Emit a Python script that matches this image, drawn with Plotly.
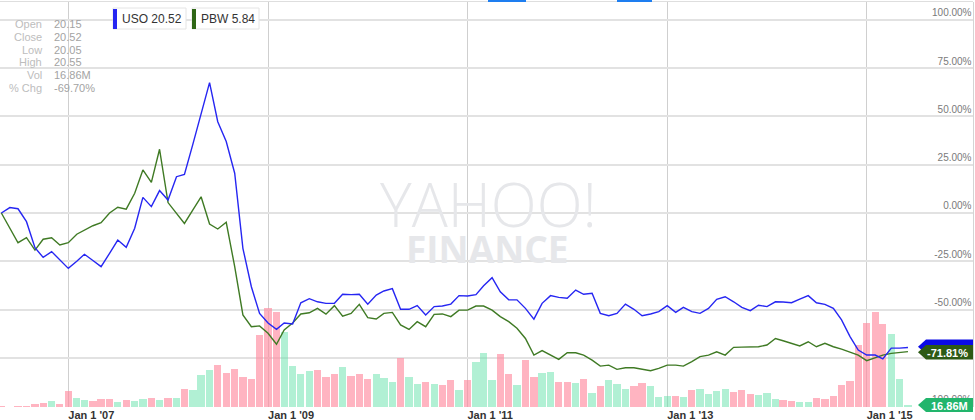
import pandas as pd
import plotly.graph_objects as go

# ---------------- data ----------------
months = pd.date_range("2006-05-01", periods=110, freq="MS")

uso_pct = [0, 2.8, 2.2, -4.5, -18, -23, -20, -24.5, -28.7, -25,
           -21.4, -24.6, -27.8, -20.9, -14, -17.8, -7.9, 8.1, 3.3, 11.6,
           6.7, 18.8, 20, 35.7, 51.8, 67.5, 47.3, 37, 20.6, -18.3,
           -38.2, -52, -57, -60.3, -57, -57.5, -46.5, -44.4, -46, -46.8,
           -46.8, -42.1, -42.3, -42.1, -47.3, -42.5, -40.4, -39.2, -49.9, -49.9,
           -48, -52.8, -48.5, -48.2, -47.2, -42.8, -43, -42.3, -37.7, -33.5,
           -40.8, -45, -45, -49.4, -55, -46.8, -42.8, -43.7, -44.2, -39.9,
           -42.1, -41.6, -52, -53.2, -52, -47.2, -49.9, -53.2, -52.3, -51.1,
           -48, -51.5, -48.9, -51.1, -52, -49.4, -44.7, -43.4, -46, -48.9,
           -50.6, -47.8, -48.5, -46, -46.1, -46.5, -44.6, -42.8, -46.5, -47.3,
           -49.4, -55.4, -64, -71, -73.6, -73.6, -75.6, -70, -70, -69.7]

pbw_pct = [0, -8, -15.4, -12.8, -19.2, -13.6, -12.8, -16.6, -15.4, -11,
           -8.8, -6.6, -5, 0, 3, 2, 10.2, 22.3, 15.9, 33,
           5.4, 0, -5.4, 1.6, 8.4, -5.7, -8.3, -4.8, -27.8, -52.8,
           -58.9, -58.5, -62.3, -68, -60.6, -57, -52.3, -51.7, -49.4, -52.4,
           -48, -53.4, -52, -47.3, -54.2, -54.9, -52, -51.5, -58, -60.3,
           -56.3, -58.9, -52.5, -52.3, -53.7, -50.3, -50.3, -48.2, -48.2, -50.3,
           -53.7, -56.3, -59.7, -65, -73.6, -71.3, -73.6, -75.8, -72.4, -72.4,
           -73.6, -76.2, -79.3, -78.8, -81, -80.2, -80.2, -81, -81.7, -80.5,
           -78.8, -78.8, -79.3, -77, -74.4, -73.6, -71.9, -73.6, -69.6, -69.5,
           -69.4, -69.3, -68.4, -65, -66.2, -67.5, -68.9, -66.7, -69.3, -67.5,
           -69.3, -70.5, -71.9, -73.6, -76.5, -74.8, -73.6, -72.7, -72.2, -71.81]

volume_m = [8, 4, 6, 8, 25, 31, 48, 23, 134, 78,
            61, 50, 65, 65, 42, 59, 50, 65, 73, 56,
            78, 76, 149, 140, 266, 313, 350, 286, 322, 252,
            233, 605, 832, 798, 630, 342, 280, 300, 308, 252,
            280, 336, 258, 275, 238, 280, 241, 210, 414, 249,
            196, 210, 191, 182, 229, 140, 227, 375, 454, 224,
            448, 280, 182, 392, 252, 286, 291, 207, 213, 202,
            238, 118, 179, 224, 196, 154, 179, 202, 174, 84,
            92, 95, 84, 140, 149, 107, 132, 151, 126, 140,
            107, 103, 118, 70, 61, 50, 39, 39, 73, 70,
            95, 182, 216, 521, 706, 798, 697, 613, 235, 16.86]

# 1 = up month (green bar), 0 = down month (pink bar)
volume_up = [0, 1, 0, 0, 0, 0, 1, 0, 0, 1,
             1, 0, 0, 0, 1, 0, 1, 1, 0, 1,
             0, 1, 0, 1, 1, 1, 0, 0, 0, 0,
             0, 0, 0, 0, 1, 1, 1, 1, 0, 0,
             0, 1, 0, 0, 0, 1, 1, 1, 0, 1,
             1, 0, 1, 0, 0, 1, 0, 1, 1, 1,
             0, 0, 1, 0, 0, 1, 1, 0, 0, 1,
             0, 1, 0, 1, 1, 1, 0, 0, 1, 1,
             1, 0, 1, 0, 1, 1, 1, 1, 0, 0,
             0, 1, 1, 1, 0, 0, 1, 1, 0, 0,
             0, 0, 0, 0, 0, 0, 0, 1, 1, 1]

x_tick_dates = ["2007-01-01", "2009-01-01", "2011-01-01", "2013-01-01", "2015-01-01"]
x_tick_labels = ["Jan 1 '07", "Jan 1 '09", "Jan 1 '11", "Jan 1 '13", "Jan 1 '15"]
y_ticks = [-100, -75, -50, -25, 0, 25, 50, 75, 100]
y_tick_labels = ["-100.00%", "-75.00%", "-50.00%", "-25.00%", "0.00%",
                 "25.00%", "50.00%", "75.00%", "100.00%"]

info_labels = ["Open", "Close", "Low", "High", "Vol", "% Chg"]
info_values = ["20.15", "20.52", "20.05", "20.55", "16.86M", "-69.70%"]
legend_names = ["USO 20.52", "PBW 5.84"]
last_pct_label = "-71.81%"
last_vol_label = "16.86M"

# ---------------- styling / geometry ----------------
W, H = 975, 420
L, R, T, B = 0, 2, 2, 13
PW, PH = W - L - R, H - T - B
USO_COLOR = "#2626f2"
PBW_COLOR = "#3f7a24"
PINK = "rgba(255,140,160,0.65)"
MINT = "rgba(100,225,170,0.5)"


def px(x):
    return (x - L) / PW


def py(y):
    return (H - B - y) / PH


t07 = pd.Timestamp("2007-01-01")
px_per_day = 99.8 / 365.25
x0 = t07 - pd.Timedelta(days=68.3 / px_per_day)
x1 = t07 + pd.Timedelta(days=(PW - 68.3) / px_per_day)

fig = go.Figure()
fig.add_trace(go.Bar(
    x=months, y=volume_m, yaxis="y",
    marker=dict(color=[MINT if u else PINK for u in volume_up], line=dict(width=0)),
    width=[26.5 * 86400000] * len(months),
    hoverinfo="skip", showlegend=False))
fig.add_trace(go.Scatter(
    x=months, y=pbw_pct, yaxis="y2", mode="lines",
    line=dict(color=PBW_COLOR, width=1.4), showlegend=False))
fig.add_trace(go.Scatter(
    x=months, y=uso_pct, yaxis="y2", mode="lines",
    line=dict(color=USO_COLOR, width=1.4), showlegend=False))

shapes = []
annotations = []

# watermark
annotations.append(dict(xref="paper", yref="paper", x=px(488), y=py(204), text="YAHOO!",
                        showarrow=False, font=dict(family="Open Sans", size=60, color="#e6e7ea", weight=300),
                        xanchor="center", yanchor="middle"))
annotations.append(dict(xref="paper", yref="paper", x=px(487), y=py(248), text="FINANCE",
                        showarrow=False, font=dict(family="Open Sans", size=37, color="#e6e7ea", weight="bold"),
                        xanchor="center", yanchor="middle"))

# info box
for k, (lab, val) in enumerate(zip(info_labels, info_values)):
    yy = 24 + 12.8 * k
    annotations.append(dict(xref="paper", yref="paper", x=px(44), y=py(yy), text=lab, showarrow=False,
                            xanchor="right", yanchor="middle",
                            font=dict(family="Liberation Sans", size=11, color="#bdbdbd")))
    annotations.append(dict(xref="paper", yref="paper", x=px(52), y=py(yy), text=val, showarrow=False,
                            xanchor="left", yanchor="middle",
                            font=dict(family="Liberation Sans", size=11, color="#a3a3a3")))

# legend boxes
leg_boxes = [(113, 186, USO_COLOR), (192, 259, "#2f6616")]
for (xa, xb, col), name in zip(leg_boxes, legend_names):
    shapes.append(dict(type="rect", xref="paper", yref="paper", x0=px(xa), x1=px(xb), y0=py(29), y1=py(8),
                       fillcolor="white", line=dict(color="#e4e4e4", width=1), layer="above"))
    shapes.append(dict(type="rect", xref="paper", yref="paper", x0=px(xa), x1=px(xa + 4), y0=py(29), y1=py(9),
                       fillcolor=col, line=dict(width=0), layer="above"))
    annotations.append(dict(xref="paper", yref="paper", x=px((xa + 5 + xb) / 2), y=py(18.5), text=name,
                            showarrow=False, xanchor="center", yanchor="middle",
                            font=dict(family="Liberation Sans", size=12, color="#333333")))

# top ui handles and top border
shapes.append(dict(type="line", xref="paper", yref="paper", x0=0, x1=1, y0=py(1.5), y1=py(1.5),
                   line=dict(color="#dedede", width=1), layer="above"))
for xa, xb in [(488, 526), (617, 652)]:
    shapes.append(dict(type="rect", xref="paper", yref="paper", x0=px(xa), x1=px(xb), y0=py(2), y1=py(0),
                       fillcolor="#1e7ef0", line=dict(width=0), layer="above"))


def badge(ytop, ybot, color):
    xt, xc, xr = 918, 926, 973
    ym = (ytop + ybot) / 2
    path = (f"M {px(xt)} {py(ym)} L {px(xc)} {py(ytop)} L {px(xr)} {py(ytop)} "
            f"L {px(xr)} {py(ybot)} L {px(xc)} {py(ybot)} Z")
    return dict(type="path", xref="paper", yref="paper", path=path, fillcolor=color,
                line=dict(width=0), layer="above")


shapes.append(badge(339.5, 354, "#0a0ae6"))
shapes.append(badge(345, 359.5, "#2d5a14"))
shapes.append(badge(398, 412, "#22b56c"))
annotations.append(dict(xref="paper", yref="paper", x=px(970), y=py(352.5), text=last_pct_label,
                        showarrow=False, xanchor="right", yanchor="middle",
                        font=dict(family="Liberation Sans", size=11, color="white", weight="bold")))
annotations.append(dict(xref="paper", yref="paper", x=px(970), y=py(405.5), text=last_vol_label,
                        showarrow=False, xanchor="right", yanchor="middle",
                        font=dict(family="Liberation Sans", size=11, color="white", weight="bold")))

fig.update_layout(
    width=W, height=H,
    margin=dict(l=L, r=R, t=T, b=B, pad=0),
    paper_bgcolor="white", plot_bgcolor="white",
    bargap=0,
    showlegend=False,
    xaxis=dict(type="date", range=[x0, x1], tickvals=x_tick_dates, ticktext=x_tick_labels,
               ticklabelposition="outside right", ticks="", showgrid=True, gridcolor="#cfcfcf",
               gridwidth=1, zeroline=False, showline=False, automargin=False,
               tickfont=dict(family="Liberation Sans", size=11, color="#333333", weight="bold")),
    yaxis=dict(range=[0, 3402], visible=False, showgrid=False, fixedrange=True),
    yaxis2=dict(overlaying="y", side="right", range=[-100.5, 109.3], tickvals=y_ticks,
                ticktext=y_tick_labels, ticklabelposition="inside top", ticks="",
                showgrid=True, gridcolor="#e2e2e2", gridwidth=1.5, zeroline=False,
                showline=True, linecolor="#d4d4d4", linewidth=1, automargin=False,
                tickfont=dict(family="Liberation Sans", size=10, color="#7a7a7a")),
    shapes=shapes,
    annotations=annotations,
)

fig.write_html("out.html", config={"displayModeBar": False},
               post_script="document.body.style.margin='0px';document.body.style.overflow='hidden';")
